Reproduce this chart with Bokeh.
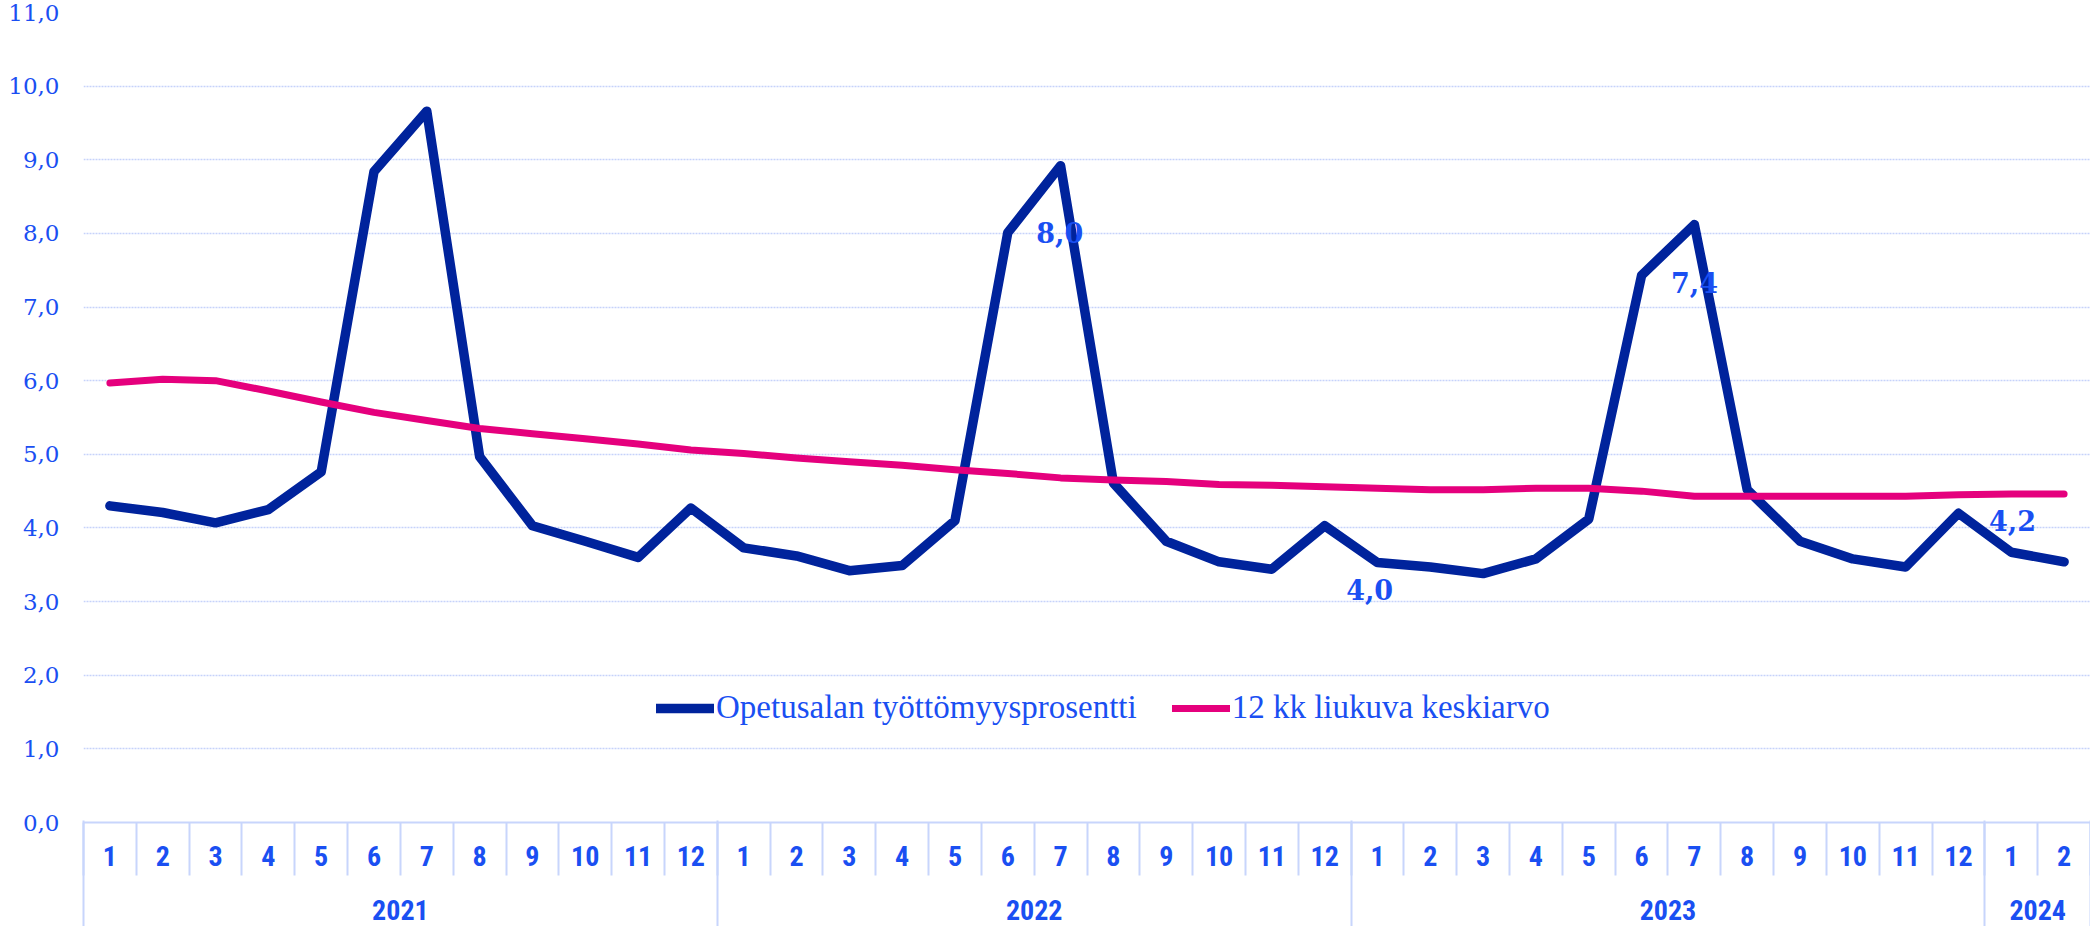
from bokeh.plotting import figure
from bokeh.models import FixedTicker, LinearAxis, Legend, LegendItem, Range1d, ColumnDataSource
from bokeh.core.properties import value
from bokeh.embed import file_html
from bokeh.resources import INLINE

# ---------------- data ----------------
years = ["2021", "2022", "2023", "2024"]
months_in_year = [12, 12, 12, 2]
month_labels = ["1", "2", "3", "4", "5", "6", "7", "8", "9", "10", "11", "12",
                "1", "2", "3", "4", "5", "6", "7", "8", "9", "10", "11", "12",
                "1", "2", "3", "4", "5", "6", "7", "8", "9", "10", "11", "12",
                "1", "2"]
unemployment = [4.30, 4.21, 4.07, 4.25, 4.76, 8.84, 9.66, 4.97, 4.03, 3.82, 3.60, 4.27,
                3.73, 3.62, 3.42, 3.49, 4.10, 8.01, 8.92, 4.61, 3.82, 3.54, 3.44, 4.03,
                3.53, 3.47, 3.38, 3.58, 4.12, 7.43, 8.12, 4.52, 3.82, 3.58, 3.47, 4.20,
                3.67, 3.54]
moving_avg = [5.97, 6.02, 6.00, 5.86, 5.71, 5.57, 5.46, 5.35, 5.28, 5.21, 5.14, 5.06,
              5.01, 4.95, 4.90, 4.85, 4.79, 4.74, 4.68, 4.65, 4.63, 4.59, 4.58, 4.56,
              4.54, 4.52, 4.52, 4.54, 4.54, 4.50, 4.43, 4.43, 4.43, 4.43, 4.43, 4.45,
              4.46, 4.46]
labelled_points = [17, 23, 29, 35]
series_names = ["Opetusalan työttömyysprosentti", "12 kk liukuva keskiarvo"]
y_ticks = [0, 1, 2, 3, 4, 5, 6, 7, 8, 9, 10, 11]

# ---------------- style ----------------
NAVY = "#00239c"
PINK = "#e5007d"
TXT = "#1a4ff2"
GRID = "#c6d2fa"
SEP = "#c8d5fc"
NARROW = "Liberation Sans Narrow, Roboto Condensed, Arial Narrow, sans-serif"

n = len(unemployment)
xs = list(range(n))

p = figure(width=2090, height=926, output_backend="svg", toolbar_location=None,
           x_range=Range1d(-0.5, n - 0.5), y_range=Range1d(0, 11),
           min_border_left=83, min_border_right=0, min_border_top=12, min_border_bottom=104,
           x_axis_type=None)
p.outline_line_color = None
p.background_fill_color = "white"

# y axis
p.yaxis.ticker = FixedTicker(ticks=y_ticks, minor_ticks=[])
p.yaxis.major_label_overrides = {t: f"{t},0" for t in y_ticks}
p.yaxis.axis_line_color = None
p.yaxis.major_tick_line_color = None
p.yaxis.minor_tick_line_color = None
p.yaxis.major_tick_out = 0
p.yaxis.major_tick_in = 0
p.yaxis.minor_tick_out = 0
p.yaxis.minor_tick_in = 0
p.yaxis.major_label_standoff = 24
p.yaxis.major_label_text_font = "DejaVu Serif"
p.yaxis.major_label_text_font_size = "23px"
p.yaxis.major_label_text_color = TXT

p.ygrid.ticker = FixedTicker(ticks=y_ticks)
p.ygrid.grid_line_color = GRID
p.ygrid.grid_line_dash = "2 1"
p.ygrid.grid_line_width = 1.6
p.xgrid.grid_line_color = None

# month axis
bounds = [i - 0.5 for i in range(n + 1)]
month_axis = LinearAxis(ticker=FixedTicker(ticks=xs, minor_ticks=bounds))
month_axis.major_label_overrides = {i: month_labels[i] for i in xs}
month_axis.axis_line_color = SEP
month_axis.axis_line_width = 2
month_axis.major_tick_line_color = None
month_axis.major_tick_out = 0
month_axis.major_tick_in = 0
month_axis.minor_tick_line_color = SEP
month_axis.minor_tick_line_width = 2
month_axis.minor_tick_out = 53
month_axis.minor_tick_in = 0
month_axis.major_label_standoff = -30
month_axis.major_label_text_font = NARROW
month_axis.major_label_text_font_style = "bold"
month_axis.major_label_text_font_size = "28px"
month_axis.major_label_text_color = TXT
p.add_layout(month_axis, "below")

# year axis
year_starts = []
s = 0
for m in months_in_year:
    year_starts.append(s)
    s += m
year_centers = [st + m / 2 - 0.5 for st, m in zip(year_starts, months_in_year)]
year_bounds = [st - 0.5 for st in year_starts] + [n - 0.5]
year_axis = LinearAxis(ticker=FixedTicker(ticks=year_centers, minor_ticks=year_bounds))
year_axis.major_label_overrides = {c: y for c, y in zip(year_centers, years)}
year_axis.axis_line_color = None
year_axis.major_tick_line_color = None
year_axis.major_tick_out = 0
year_axis.major_tick_in = 0
year_axis.minor_tick_line_color = SEP
year_axis.minor_tick_line_width = 2
year_axis.minor_tick_in = 48
year_axis.minor_tick_out = 70
year_axis.major_label_standoff = -39
year_axis.major_label_text_font = NARROW
year_axis.major_label_text_font_style = "bold"
year_axis.major_label_text_font_size = "28px"
year_axis.major_label_text_color = TXT
p.add_layout(year_axis, "below")

# lines
src = ColumnDataSource(dict(x=xs, u=unemployment, m=moving_avg))
r1 = p.line("x", "u", source=src, line_color=NAVY, line_width=9.5,
            line_join="round", line_cap="round")
r2 = p.line("x", "m", source=src, line_color=PINK, line_width=7,
            line_join="round", line_cap="round")

# data labels
lab_x = [xs[i] for i in labelled_points]
lab_y = [unemployment[i] for i in labelled_points]
lab_t = [f"{unemployment[i]:.1f}".replace(".", ",") for i in labelled_points]
x_off = [52, 45, 53, 54]
y_off = [0, 64, 7, 7]
lsrc = ColumnDataSource(dict(x=lab_x, y=lab_y, t=lab_t, xo=x_off, yo=y_off))
p.text("x", "y", text="t", source=lsrc, x_offset="xo", y_offset="yo",
       text_font=value("DejaVu Serif"), text_font_style="bold", text_font_size="27px",
       text_color=TXT, text_align="center", text_baseline="middle")

legend = Legend(items=[LegendItem(label=series_names[0], renderers=[r1]),
                       LegendItem(label=series_names[1], renderers=[r2])],
                orientation="horizontal", location=(573, 96),
                border_line_color=None, background_fill_alpha=0,
                label_text_font="Liberation Serif", label_text_font_size="33px",
                label_text_color=TXT, glyph_width=58, glyph_height=30,
                label_standoff=2, spacing=35, padding=0, margin=0)
p.add_layout(legend)

open("out.html", "w").write(file_html(p, INLINE))
